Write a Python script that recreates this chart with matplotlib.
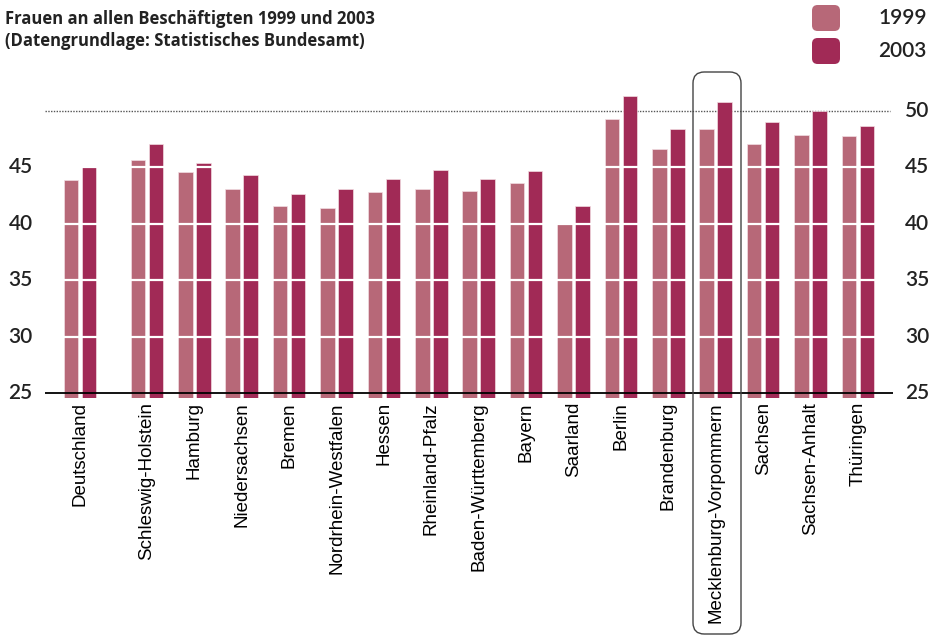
import matplotlib.pyplot as plt
from matplotlib.patches import FancyBboxPatch

laender = ['Deutschland', 'Schleswig-Holstein', 'Hamburg', 'Niedersachsen', 'Bremen',
           'Nordrhein-Westfalen', 'Hessen', 'Rheinland-Pfalz', 'Baden-Württemberg',
           'Bayern', 'Saarland', 'Berlin', 'Brandenburg', 'Mecklenburg-Vorpommern',
           'Sachsen', 'Sachsen-Anhalt', 'Thüringen']
werte_1999 = [43.9, 45.7, 44.6, 43.1, 41.55, 41.4, 42.8, 43.1, 42.9,
              43.65, 40.0, 49.3, 46.6, 48.4, 47.1, 47.9, 47.8]
werte_2003 = [45.1, 47.1, 45.4, 44.3, 42.6, 43.1, 43.95, 44.8, 43.95,
              44.7, 41.6, 51.3, 48.4, 50.8, 49.0, 50.0, 48.7]
jahre = ['1999', '2003']
yticks_left = [25, 30, 35, 40, 45]
yticks_right = [25, 30, 35, 40, 45, 50]

c1999 = '#b76878'
c2003 = '#a12a56'
txt = '#222222'
numfont = 'Lato'

W, H = 936, 635
fig = plt.figure(figsize=(W / 100, H / 100), dpi=100)

# x positions: Deutschland set apart from the Laender
xpos = [0] + [1.41 + i for i in range(len(laender) - 1)]
ymin, ymax = 24.6, 52.5
ax = fig.add_axes([45 / W, 1 - 397.5 / H, (893 - 45) / W, (397.5 - 82.8) / H])
ax.set_xlim(-0.74, 17.15)
ax.set_ylim(ymin, ymax)
ax.axis('off')

bw = 0.31
off = 0.19
for x, a, b in zip(xpos, werte_1999, werte_2003):
    ax.bar(x - off, a - ymin, bw, bottom=ymin, color=c1999, edgecolor='#f2dde2', linewidth=0.5, zorder=2)
    ax.bar(x + off, b - ymin, bw, bottom=ymin, color=c2003, edgecolor='#f2dde2', linewidth=0.5, zorder=2)

# white grid lines cutting through the bars
for y in [30, 35, 40, 45]:
    ax.axhline(y, color='white', lw=1.6, zorder=3)
ax.axhline(25, color='black', lw=1.3, zorder=4)
ax.axhline(50, xmax=(890 - 45) / (893 - 45), color='#555555', lw=1.0, ls=(0, (1, 1)), zorder=1)

for y in yticks_left:
    ax.text(-1.0, y, str(y), ha='right', va='center', fontsize=15, color=txt,
            family=numfont, fontweight='semibold', clip_on=False)
for y in yticks_right:
    ax.text(17.4, y, str(y), ha='left', va='center', fontsize=15, color=txt,
            family=numfont, fontweight='semibold', clip_on=False)

for x, name in zip(xpos, laender):
    ax.text(x, 24.2, name, rotation=90, ha='center', va='top', fontsize=13.5,
            color='black', family='Liberation Sans', clip_on=False)

# box around Mecklenburg-Vorpommern
box = FancyBboxPatch((693 / W, 1 - 634 / H), 48 / W, 562 / H,
                     boxstyle='round,pad=0,rounding_size=0.012', transform=fig.transFigure,
                     fill=False, edgecolor='#444444', lw=1.0, mutation_aspect=W / H)
fig.patches.append(box)

fig.text(5 / W, 1 - 19 / H, 'Frauen an allen Beschäftigten 1999 und 2003', ha='left', va='center',
         fontsize=12, fontweight='bold', color=txt, family='Open Sans')
fig.text(5 / W, 1 - 41 / H, '(Datengrundlage: Statistisches Bundesamt)', ha='left', va='center',
         fontsize=12, fontweight='bold', color=txt, family='Open Sans')

for i, (jahr, col) in enumerate(zip(jahre, [c1999, c2003])):
    yc = 18 + i * 33
    sq = FancyBboxPatch((812 / W, 1 - (yc + 13) / H), 28 / W, 26 / H,
                        boxstyle='round,pad=0,rounding_size=0.006', transform=fig.transFigure,
                        facecolor=col, edgecolor='none', mutation_aspect=W / H)
    fig.patches.append(sq)
    fig.text(878 / W, 1 - yc / H, jahr, ha='left', va='center', fontsize=15, color=txt,
             family=numfont, fontweight='semibold')

fig.savefig('out.png', dpi=100)
